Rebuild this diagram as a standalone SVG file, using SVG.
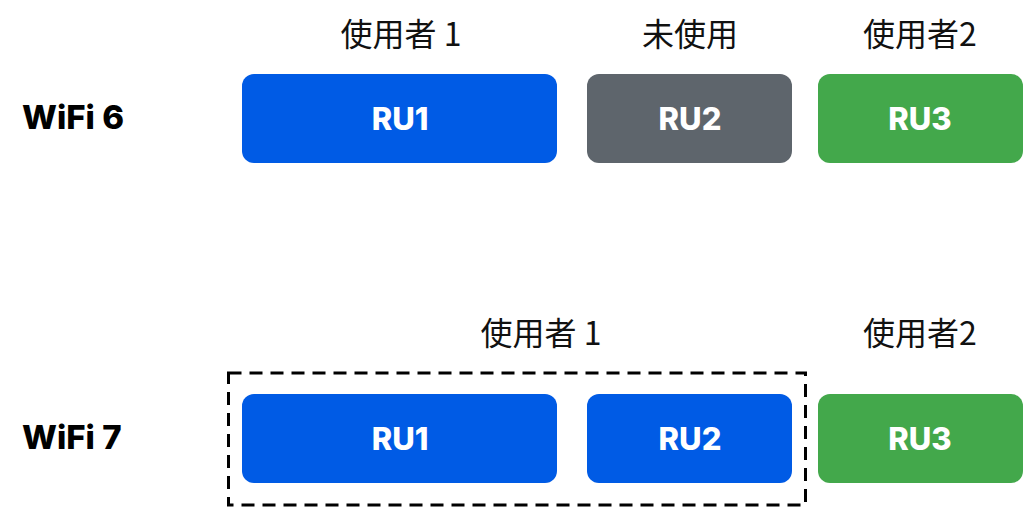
<svg xmlns="http://www.w3.org/2000/svg" width="1024" height="508" viewBox="0 0 1024 508">
<style>
.ru{font-family:Inter,"Noto Sans",sans-serif;font-weight:800;font-size:31px;fill:#fff;text-anchor:middle}
.row{font-family:Inter,"Noto Sans",sans-serif;font-weight:800;font-size:33px;fill:#000}
.user{font-family:"Noto Sans CJK TC","Noto Sans",sans-serif;font-size:32px;fill:#111;text-anchor:middle}
.blue{fill:#005BE5}
.gray{fill:#5E656C}
.green{fill:#43A84B}
</style>
<rect width="1024" height="508" fill="#fff"/>
<g id="labels">
<text class="row" x="22" y="129">WiFi 6</text>
<text class="row" x="22" y="449">WiFi 7</text>
<text class="user" x="401" y="46">使用者 1</text>
<text class="user" x="690" y="46">未使用</text>
<text class="user" x="920" y="46">使用者2</text>
<text class="user" x="541" y="345">使用者 1</text>
<text class="user" x="920" y="345">使用者2</text>
</g>
<g id="w6-ru1"><rect class="blue" x="242" y="74" width="315" height="89" rx="12"/><text class="ru" x="400" y="130">RU1</text></g>
<g id="w6-ru2"><rect class="gray" x="587" y="74" width="205" height="89" rx="12"/><text class="ru" x="690" y="130">RU2</text></g>
<g id="w6-ru3"><rect class="green" x="818" y="74" width="205" height="89" rx="12"/><text class="ru" x="920" y="130">RU3</text></g>
<g id="w7-group"><rect x="228.5" y="373" width="577" height="132" fill="none" stroke="#000" stroke-width="3" stroke-dasharray="13 8"/></g>
<g id="w7-ru1"><rect class="blue" x="242" y="394" width="315" height="89" rx="12"/><text class="ru" x="400" y="450">RU1</text></g>
<g id="w7-ru2"><rect class="blue" x="587" y="394" width="205" height="89" rx="12"/><text class="ru" x="690" y="450">RU2</text></g>
<g id="w7-ru3"><rect class="green" x="818" y="394" width="205" height="89" rx="12"/><text class="ru" x="920" y="450">RU3</text></g>
<g id="connectors"/>
</svg>
